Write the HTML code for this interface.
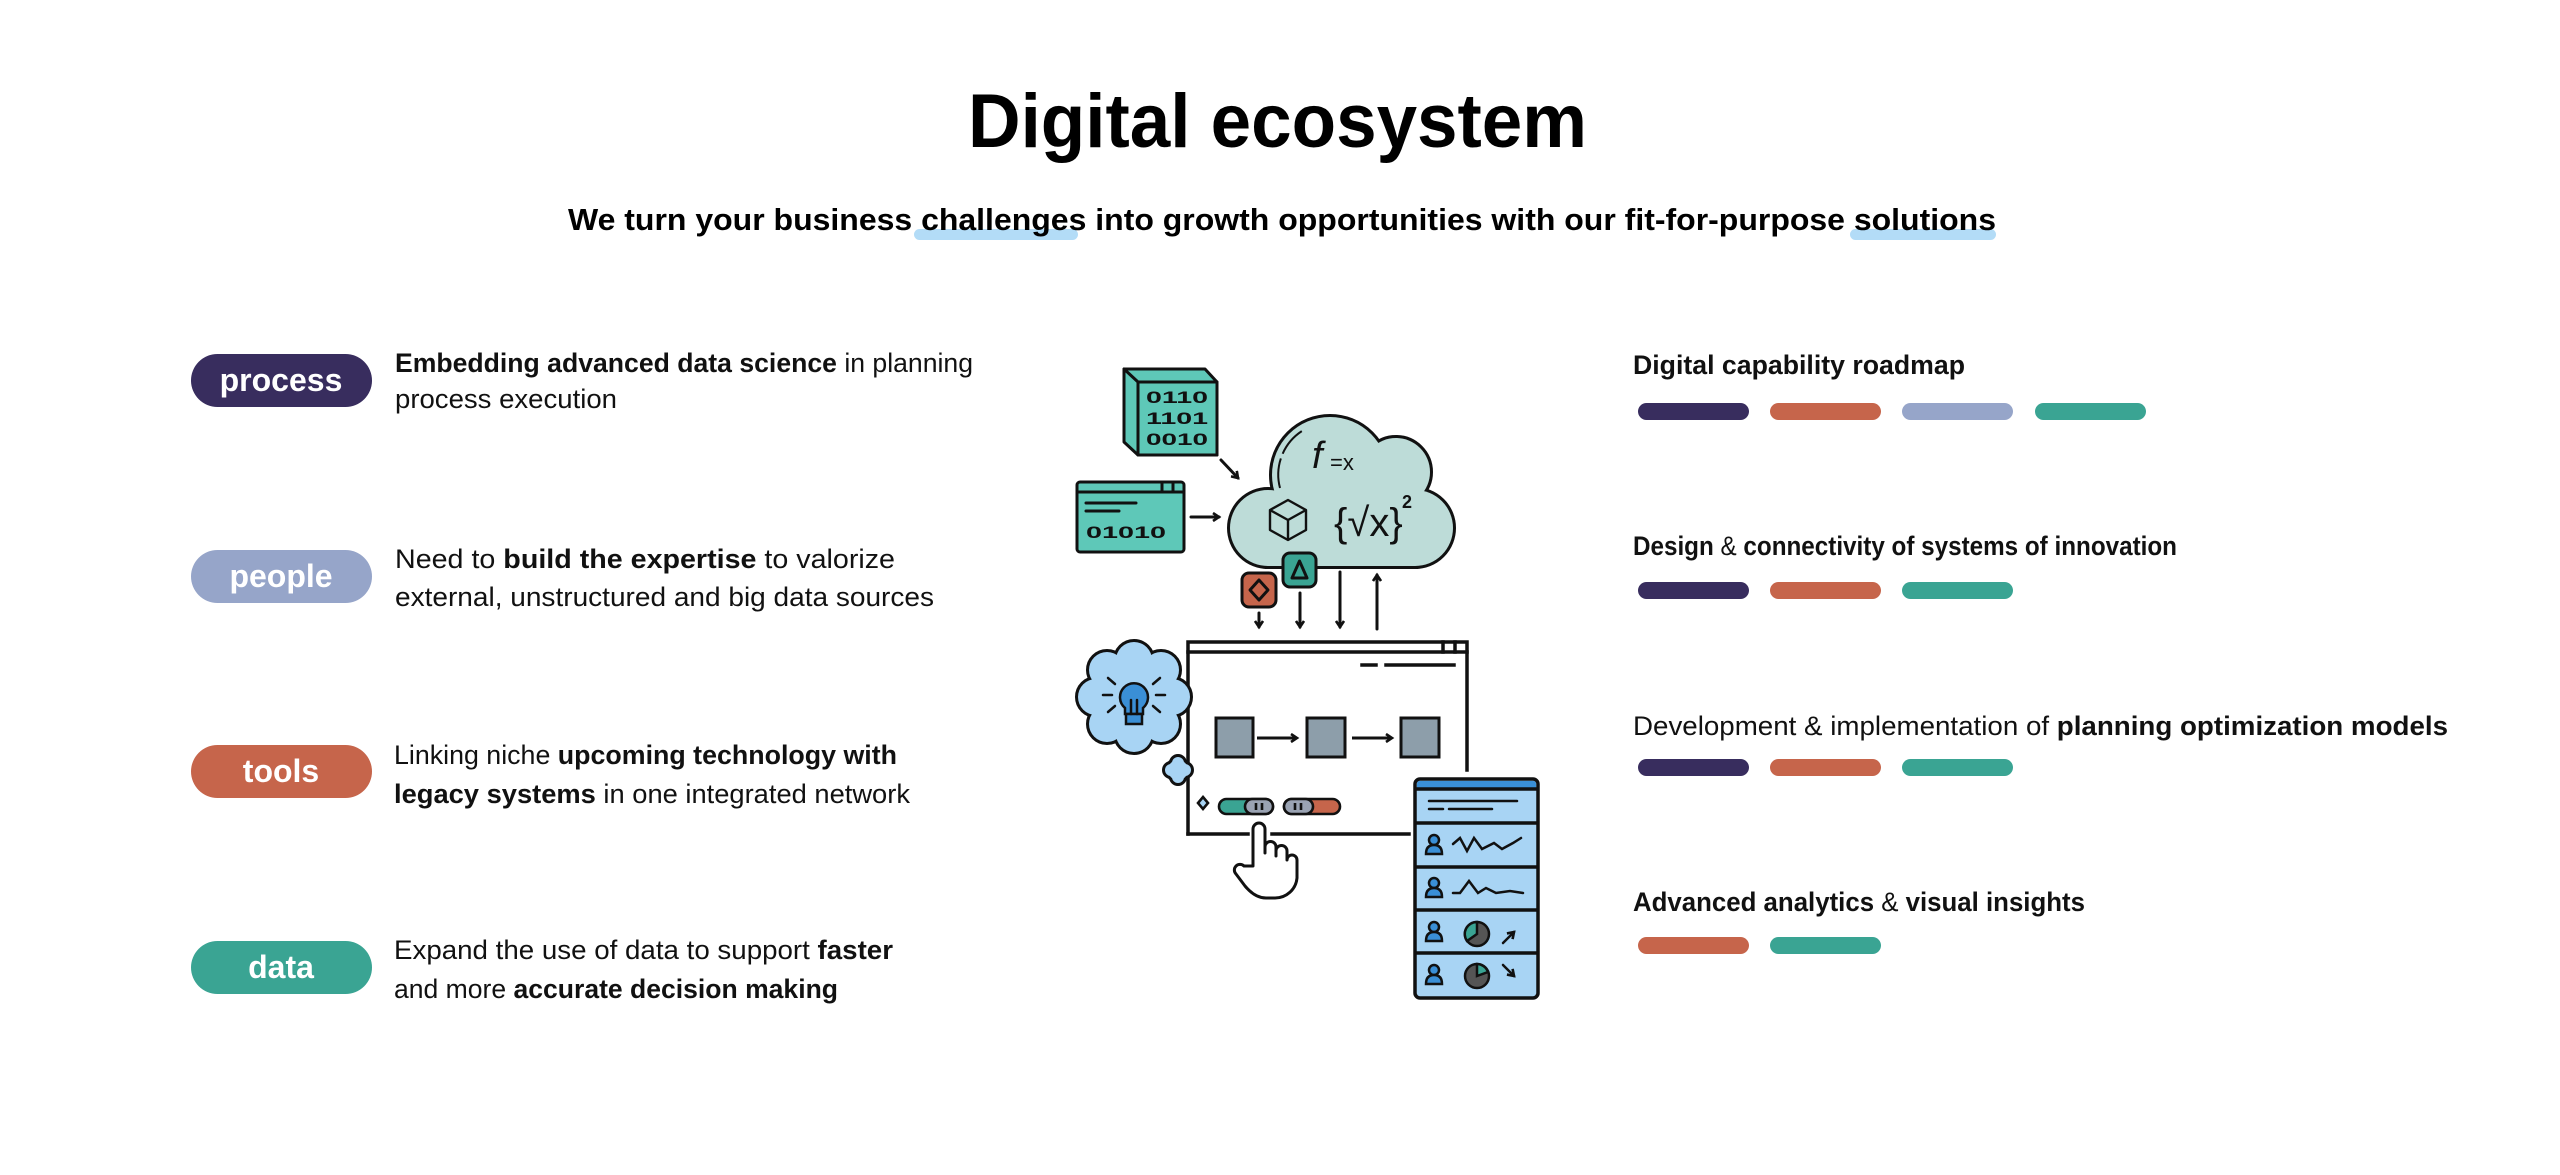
<!DOCTYPE html>
<html><head><meta charset="utf-8"><style>
html,body{margin:0;padding:0;background:#fff;}
svg{display:block;}
text{font-family:"Liberation Sans",Arial,sans-serif;}
</style></head><body>
<svg width="2560" height="1175" viewBox="0 0 2560 1175" xmlns="http://www.w3.org/2000/svg">
<rect width="2560" height="1175" fill="#fff"/>
<text x="968" y="147" font-size="76" font-weight="bold" textLength="619" lengthAdjust="spacingAndGlyphs" fill="#000">Digital ecosystem</text>
<rect x="914" y="229" width="164" height="11" rx="5.5" fill="#b3dcf7"/>
<rect x="1850" y="229" width="146" height="11" rx="5.5" fill="#b3dcf7"/>
<text x="568" y="230" font-size="31" font-weight="bold" textLength="1428" lengthAdjust="spacingAndGlyphs" fill="#000">We turn your business challenges into growth opportunities with our fit-for-purpose solutions</text>

<g font-weight="bold" font-size="32" fill="#fff" text-anchor="middle">
<rect x="191" y="354" width="181" height="53" rx="26.5" fill="#382d5e"/>
<text x="281" y="391" fill="#fff">process</text>
<rect x="191" y="550" width="181" height="53" rx="26.5" fill="#96a5c9"/>
<text x="281" y="587" fill="#fff">people</text>
<rect x="191" y="745" width="181" height="53" rx="26.5" fill="#c6654b"/>
<text x="281" y="782" fill="#fff">tools</text>
<rect x="191" y="941" width="181" height="53" rx="26.5" fill="#3aa493"/>
<text x="281" y="978" fill="#fff">data</text>
</g>

<g font-size="27" fill="#111">
<text x="395" y="372" textLength="578" lengthAdjust="spacingAndGlyphs"><tspan font-weight="bold">Embedding advanced data science</tspan> in planning</text>
<text x="395" y="408" textLength="222" lengthAdjust="spacingAndGlyphs">process execution</text>
<text x="395" y="568" textLength="500" lengthAdjust="spacingAndGlyphs">Need to <tspan font-weight="bold">build the expertise</tspan> to valorize</text>
<text x="395" y="606" textLength="539" lengthAdjust="spacingAndGlyphs">external, unstructured and big data sources</text>
<text x="394" y="764" textLength="503" lengthAdjust="spacingAndGlyphs">Linking niche <tspan font-weight="bold">upcoming technology with</tspan></text>
<text x="394" y="803" textLength="516" lengthAdjust="spacingAndGlyphs"><tspan font-weight="bold">legacy systems</tspan> in one integrated network</text>
<text x="394" y="959" textLength="499" lengthAdjust="spacingAndGlyphs">Expand the use of data to support <tspan font-weight="bold">faster</tspan></text>
<text x="394" y="998" textLength="444" lengthAdjust="spacingAndGlyphs">and more <tspan font-weight="bold">accurate decision making</tspan></text>
</g>

<g font-size="27" fill="#111">
<text x="1633" y="374" font-weight="bold" textLength="332" lengthAdjust="spacingAndGlyphs">Digital capability roadmap</text>
<text x="1633" y="555" textLength="544" lengthAdjust="spacingAndGlyphs"><tspan font-weight="bold">Design</tspan> &amp; <tspan font-weight="bold">connectivity of systems of innovation</tspan></text>
<text x="1633" y="735" textLength="815" lengthAdjust="spacingAndGlyphs">Development &amp; implementation of <tspan font-weight="bold">planning optimization models</tspan></text>
<text x="1633" y="911" textLength="452" lengthAdjust="spacingAndGlyphs"><tspan font-weight="bold">Advanced analytics</tspan> &amp; <tspan font-weight="bold">visual insights</tspan></text>
</g>
<g>
<rect x="1638" y="403" width="111" height="17" rx="8.5" fill="#382d5e"/>
<rect x="1770" y="403" width="111" height="17" rx="8.5" fill="#c6654b"/>
<rect x="1902" y="403" width="111" height="17" rx="8.5" fill="#96a5c9"/>
<rect x="2035" y="403" width="111" height="17" rx="8.5" fill="#3aa493"/>
<rect x="1638" y="582" width="111" height="17" rx="8.5" fill="#382d5e"/>
<rect x="1770" y="582" width="111" height="17" rx="8.5" fill="#c6654b"/>
<rect x="1902" y="582" width="111" height="17" rx="8.5" fill="#3aa493"/>
<rect x="1638" y="759" width="111" height="17" rx="8.5" fill="#382d5e"/>
<rect x="1770" y="759" width="111" height="17" rx="8.5" fill="#c6654b"/>
<rect x="1902" y="759" width="111" height="17" rx="8.5" fill="#3aa493"/>
<rect x="1638" y="937" width="111" height="17" rx="8.5" fill="#c6654b"/>
<rect x="1770" y="937" width="111" height="17" rx="8.5" fill="#3aa493"/>
</g>

<defs>
<marker id="ah" markerWidth="10" markerHeight="10" refX="7" refY="5" orient="auto" markerUnits="userSpaceOnUse">
<path d="M1,1 L7,5 L1,9" fill="none" stroke="#111" stroke-width="2.6"/>
</marker>
</defs>
<g stroke="#111" stroke-width="3" stroke-linejoin="round" stroke-linecap="round">
<path d="M1124,369 L1205,369 L1217,382 L1217,455 L1138,455 L1124,442 Z" fill="#5ec8b8"/>
<rect x="1138" y="382" width="79" height="73" fill="#5ec8b8"/>
<line x1="1124" y1="369" x2="1138" y2="382"/>
</g>
<g font-size="17" font-weight="bold" fill="#111" font-family="Liberation Mono, monospace">
<text x="1146" y="403" textLength="62" lengthAdjust="spacingAndGlyphs">0110</text>
<text x="1146" y="424" textLength="62" lengthAdjust="spacingAndGlyphs">1101</text>
<text x="1146" y="445" textLength="62" lengthAdjust="spacingAndGlyphs">0010</text>
</g>
<g stroke="#111" stroke-width="3" stroke-linejoin="round" stroke-linecap="round">
<rect x="1077" y="482" width="107" height="70" rx="3" fill="#5ec8b8"/>
<line x1="1077" y1="492" x2="1184" y2="492"/>
<line x1="1162" y1="482" x2="1162" y2="492"/>
<line x1="1173" y1="482" x2="1173" y2="492"/>
<line x1="1086" y1="503" x2="1136" y2="503"/>
<line x1="1086" y1="511" x2="1119" y2="511"/>
<line x1="1191" y1="517" x2="1219" y2="517" marker-end="url(#ah)"/>
<line x1="1221" y1="460" x2="1238" y2="478" marker-end="url(#ah)"/>
</g>
<text x="1086" y="538" font-size="17" font-weight="bold" fill="#111" font-family="Liberation Mono, monospace" textLength="80" lengthAdjust="spacingAndGlyphs">01010</text>

<g stroke="#111" stroke-width="6" fill="#111">
<circle cx="1268" cy="528" r="38"/>
<circle cx="1330" cy="475" r="58"/>
<circle cx="1396" cy="472" r="34"/>
<circle cx="1415" cy="528" r="38"/>
<rect x="1268" y="500" width="147" height="66"/>
</g>
<g fill="#bddcd8">
<circle cx="1268" cy="528" r="38"/>
<circle cx="1330" cy="475" r="58"/>
<circle cx="1396" cy="472" r="34"/>
<circle cx="1415" cy="528" r="38"/>
<rect x="1268" y="500" width="147" height="66"/>
</g>
<path d="M1280,488 A52,52 0 0 1 1302,431" fill="none" stroke="#111" stroke-width="2" stroke-dasharray="30,5"/>
<text x="1312" y="468" font-size="38" font-style="italic" font-family="Liberation Serif, serif" fill="#111">f</text>
<text x="1330" y="470" font-size="22" fill="#111">=x</text>
<text x="1334" y="536" font-size="40" font-family="Liberation Serif, serif" fill="#111">{√x}</text>
<text x="1402" y="508" font-size="18" font-weight="bold" fill="#111">2</text>
<g stroke="#111" stroke-width="2.4" fill="none" stroke-linejoin="round">
<path d="M1288,500 L1306,510 L1306,530 L1288,540 L1270,530 L1270,510 Z"/>
<path d="M1270,510 L1288,520 L1306,510 M1288,520 L1288,540"/>
</g>
<g stroke="#111" stroke-width="3" stroke-linejoin="round">
<rect x="1283" y="553" width="33" height="34" rx="7" fill="#3aa493"/>
<path d="M1299.5,561 L1307,578 L1292,578 Z" fill="none"/>
<rect x="1242" y="573" width="34" height="34" rx="7" fill="#c6654b"/>
<path d="M1259,580 L1268,590 L1259,600 L1250,590 Z" fill="none"/>
</g>
<g stroke="#111" stroke-width="3" stroke-linecap="round">
<line x1="1259" y1="613" x2="1259" y2="627" marker-end="url(#ah)"/>
<line x1="1300" y1="593" x2="1300" y2="627" marker-end="url(#ah)"/>
<line x1="1340" y1="572" x2="1340" y2="627" marker-end="url(#ah)"/>
<line x1="1377" y1="629" x2="1377" y2="575" marker-end="url(#ah)"/>
</g>

<g stroke="#111" stroke-width="3.5" fill="none" stroke-linecap="square">
<path d="M1188,834 L1188,642 L1467,642 L1467,770"/>
<line x1="1188" y1="652" x2="1467" y2="652"/>
<line x1="1455" y1="642" x2="1455" y2="652"/>
<line x1="1443" y1="642" x2="1443" y2="652"/>
<line x1="1362" y1="665" x2="1376" y2="665"/>
<line x1="1386" y1="665" x2="1454" y2="665"/>
<line x1="1188" y1="834" x2="1248" y2="834"/>
<line x1="1272" y1="834" x2="1409" y2="834"/>
</g>
<g stroke="#111" stroke-width="6" fill="#111">
<circle cx="1134" cy="697" r="44"/>
<circle cx="1134" cy="660" r="18"/><circle cx="1161" cy="670" r="18"/><circle cx="1172" cy="697" r="18"/>
<circle cx="1161" cy="724" r="18"/><circle cx="1134" cy="734" r="18"/><circle cx="1107" cy="724" r="18"/>
<circle cx="1096" cy="697" r="18"/><circle cx="1107" cy="670" r="18"/>
<circle cx="1178" cy="770" r="10"/><circle cx="1178" cy="763" r="6"/><circle cx="1185" cy="770" r="6"/><circle cx="1178" cy="777" r="6"/><circle cx="1171" cy="770" r="6"/>
</g>
<g fill="#a8d4f4">
<circle cx="1134" cy="697" r="44"/>
<circle cx="1134" cy="660" r="18"/><circle cx="1161" cy="670" r="18"/><circle cx="1172" cy="697" r="18"/>
<circle cx="1161" cy="724" r="18"/><circle cx="1134" cy="734" r="18"/><circle cx="1107" cy="724" r="18"/>
<circle cx="1096" cy="697" r="18"/><circle cx="1107" cy="670" r="18"/>
<circle cx="1178" cy="770" r="10"/><circle cx="1178" cy="763" r="6"/><circle cx="1185" cy="770" r="6"/><circle cx="1178" cy="777" r="6"/><circle cx="1171" cy="770" r="6"/>
</g>
<g stroke="#111" stroke-width="2.5" stroke-linecap="round">
<path d="M1125,714 L1125,708 A14,14 0 1 1 1143,708 L1143,714 Z" fill="#3a8fd6"/>
<rect x="1126" y="714" width="16" height="10" fill="#3a8fd6"/>
<line x1="1131" y1="700" x2="1131" y2="714"/><line x1="1137" y1="700" x2="1137" y2="714"/>
<line x1="1103" y1="695" x2="1112" y2="695"/><line x1="1156" y1="695" x2="1165" y2="695"/>
<line x1="1108" y1="678" x2="1115" y2="684"/><line x1="1160" y1="678" x2="1153" y2="684"/>
<line x1="1108" y1="712" x2="1115" y2="706"/><line x1="1160" y1="712" x2="1153" y2="706"/>
</g>
<g stroke="#111" stroke-width="3">
<rect x="1216" y="718" width="37" height="39" fill="#8d9eaa"/>
<rect x="1307" y="718" width="38" height="39" fill="#8d9eaa"/>
<rect x="1401" y="718" width="38" height="39" fill="#8d9eaa"/>
<line x1="1257" y1="738" x2="1297" y2="738" marker-end="url(#ah)"/>
<line x1="1352" y1="738" x2="1392" y2="738" marker-end="url(#ah)"/>
</g>
<g stroke="#111" stroke-width="2.6">
<path d="M1203,797 L1208,803 L1203,809 L1198,803 Z" fill="#a8d4f4"/>
<rect x="1219" y="799" width="54" height="15" rx="7.5" fill="#3aa493"/>
<rect x="1245" y="799" width="28" height="15" rx="7.5" fill="#9aa3b3"/>
<line x1="1256" y1="803" x2="1256" y2="810"/><line x1="1262" y1="803" x2="1262" y2="810"/>
<rect x="1284" y="799" width="56" height="15" rx="7.5" fill="#c6654b"/>
<rect x="1284" y="799" width="29" height="15" rx="7.5" fill="#9aa3b3"/>
<line x1="1295" y1="803" x2="1295" y2="810"/><line x1="1301" y1="803" x2="1301" y2="810"/>
</g>
<path d="M1253,866 L1253,829 A6,6 0 0 1 1265,829 L1265,853 L1265,847 A5.5,5.5 0 0 1 1276,847 L1276,856 L1276,851 A5.5,5.5 0 0 1 1287,851 L1287,860 A5,5 0 0 1 1297,860 L1297,878 A22,22 0 0 1 1275,898 L1266,898 Q1255,898 1245,886 L1236,874 A5,5 0 0 1 1244,866 Z" fill="#fff" stroke="#111" stroke-width="3" stroke-linejoin="round"/>
<g stroke="#111" stroke-width="3.5">
<rect x="1415" y="779" width="123" height="219" rx="5" fill="#a8d4f4"/>
<path d="M1417,788 L1417,784 Q1417,781 1420,781 L1533,781 Q1536,781 1536,784 L1536,788 Z" fill="#3a8fd6" stroke="none"/>
<line x1="1415" y1="789" x2="1538" y2="789"/>
<line x1="1415" y1="823" x2="1538" y2="823"/>
<line x1="1415" y1="867" x2="1538" y2="867"/>
<line x1="1415" y1="910" x2="1538" y2="910"/>
<line x1="1415" y1="953" x2="1538" y2="953"/>
</g>
<g stroke="#111" stroke-width="2.5" fill="none" stroke-linecap="round">
<line x1="1429" y1="801" x2="1517" y2="801"/>
<line x1="1429" y1="809" x2="1443" y2="809"/>
<line x1="1449" y1="809" x2="1492" y2="809"/>
<path d="M1453,844 L1460,838 L1467,851 L1474,838 L1482,849 L1494,843 L1502,849 L1513,843 L1521,838"/>
<path d="M1453,893 L1460,893 L1469,881 L1478,893 L1486,888 L1496,893 L1510,891 L1523,893"/>
<line x1="1503" y1="943" x2="1514" y2="932" marker-end="url(#ah)"/>
<line x1="1503" y1="965" x2="1514" y2="976" marker-end="url(#ah)"/>
</g>
<g stroke="#111" stroke-width="2.5">
<circle cx="1434" cy="840" r="5" fill="#3a8fd6"/><path d="M1426,854 Q1426,845 1434,845 Q1442,845 1442,854 Z" fill="#3a8fd6"/>
<circle cx="1434" cy="883" r="5" fill="#3a8fd6"/><path d="M1426,897 Q1426,888 1434,888 Q1442,888 1442,897 Z" fill="#3a8fd6"/>
<circle cx="1434" cy="927" r="5" fill="#3a8fd6"/><path d="M1426,941 Q1426,932 1434,932 Q1442,932 1442,941 Z" fill="#3a8fd6"/>
<circle cx="1434" cy="970" r="5" fill="#3a8fd6"/><path d="M1426,984 Q1426,975 1434,975 Q1442,975 1442,984 Z" fill="#3a8fd6"/>
<circle cx="1477" cy="934" r="12" fill="#555"/>
<path d="M1477,934 L1477,922 A12,12 0 0 0 1467,941 Z" fill="#3aa493"/>
<circle cx="1477" cy="976" r="12" fill="#555"/>
<path d="M1477,976 L1477,964 A12,12 0 0 1 1488,972 Z" fill="#3aa493"/>
</g>
</svg>
</body></html>
